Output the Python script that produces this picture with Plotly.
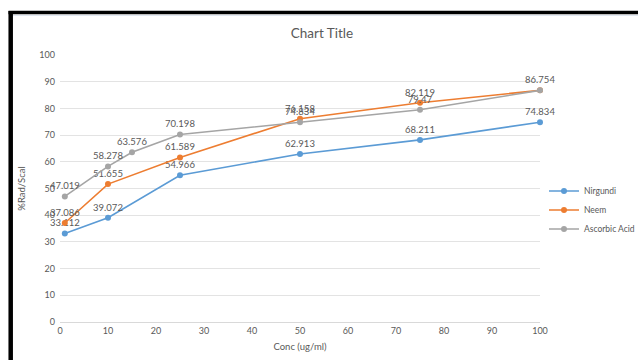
import plotly.graph_objects as go

conc_nirgundi = [1, 10, 25, 50, 75, 100]
nirgundi = [33.112, 39.072, 54.966, 62.913, 68.211, 74.834]
conc_neem = [1, 10, 25, 50, 75, 100]
neem = [37.086, 51.655, 61.589, 76.158, 82.119, 86.754]
conc_asc = [1, 10, 15, 25, 50, 75, 100]
ascorbic = [47.019, 58.278, 63.576, 70.198, 74.834, 79.47, 86.754]

W, H = 638, 360
L, R, T, B = 60, 98, 55, 38
pw, ph = W - L - R, H - T - B

def px(x):
    return (x - L) / pw

def py(y):
    return (H - B - y) / ph

fig = go.Figure()
series = [
    ("Nirgundi", conc_nirgundi, nirgundi, "#5B9BD5", [True] * 6),
    ("Neem", conc_neem, neem, "#ED7D31", [True, True, True, True, True, False]),
    ("Ascorbic Acid", conc_asc, ascorbic, "#A5A5A5", [True] * 7),
]
for name, xs, ys, col, show in series:
    texts = [(f"{v:g}" if s else "") for v, s in zip(ys, show)]
    fig.add_trace(go.Scatter(
        x=xs, y=ys, name=name, mode="lines+markers+text",
        line=dict(color=col, width=1.6),
        marker=dict(color=col, size=6),
        text=texts, textposition="top center",
        textfont=dict(family="Lato, Open Sans, sans-serif", size=9.5, color="#595959"),
        cliponaxis=False,
    ))

font = "Lato, Open Sans, sans-serif"
fig.update_layout(
    width=W, height=H,
    margin=dict(l=L, r=R, t=T, b=B, autoexpand=False),
    paper_bgcolor="white", plot_bgcolor="white",
    font=dict(family=font, color="#595959", size=9),
    title=dict(text="Chart Title", x=(322) / W, xanchor="center",
               y=1 - 33 / H, yanchor="middle",
               font=dict(size=13.5, color="#595959", family=font)),
    xaxis=dict(range=[0, 100], tickvals=list(range(0, 101, 10)),
               showgrid=False, zeroline=False, showline=True,
               linecolor="#d9d9d9", linewidth=1,
               ticks="", tickfont=dict(size=9, color="#595959"),
               title=dict(text="Conc (ug/ml)", standoff=8,
                          font=dict(size=9.5, color="#595959"))),
    yaxis=dict(range=[0, 100], tickvals=list(range(0, 101, 10)),
               showgrid=True, gridcolor="#e3e3e3", gridwidth=1,
               zeroline=False, showline=False, ticks="",
               ticklabelstandoff=4,
               tickfont=dict(size=9, color="#595959"),
               title=dict(text="%Rad/Scal", standoff=12,
                          font=dict(size=9.5, color="#595959"))),
    legend=dict(x=px(544), y=py(210), xanchor="left", yanchor="middle",
                font=dict(size=8.5, color="#595959", family=font),
                bgcolor="rgba(0,0,0,0)", itemwidth=30, tracegroupgap=0),
    showlegend=True,
)

# black frame edges (top and left), as in the photographed reference
fig.add_shape(type="line", xref="paper", yref="paper",
              x0=px(8.5), x1=px(640), y0=py(12.5), y1=py(12.5),
              line=dict(color="black", width=3.5))
fig.add_shape(type="line", xref="paper", yref="paper",
              x0=px(10.7), x1=px(10.7), y0=py(11), y1=py(362),
              line=dict(color="black", width=4.5))
fig.add_shape(type="line", xref="paper", yref="paper",
              x0=px(13), x1=px(640), y0=py(15.5), y1=py(15.5),
              line=dict(color="#dfe6f0", width=1))

fig.write_html("out.html")
